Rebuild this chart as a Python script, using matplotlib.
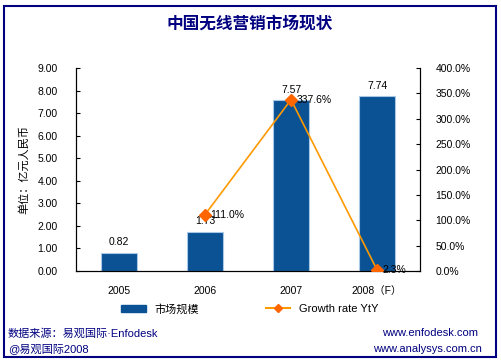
import matplotlib.pyplot as plt
from matplotlib.patches import Rectangle
from matplotlib.lines import Line2D

plt.rcParams['font.family'] = ['Liberation Sans', 'Noto Sans CJK SC', 'DejaVu Sans']

years = ['2005', '2006', '2007', '2008（F）']
market = [0.82, 1.73, 7.57, 7.74]
growth_years = [1, 2, 3]
growth = [111.0, 337.6, 2.3]
navy = '#000080'

W, H = 501, 363
fig = plt.figure(figsize=(W / 100, H / 100), dpi=100)

# outer frame
fig.patches.append(Rectangle((4 / W, 6 / H), 492 / W, 351 / H, transform=fig.transFigure,
                             fill=False, edgecolor=navy, linewidth=1.5))

fig.text(250 / W, 1 - 24 / H, '中国无线营销市场现状', ha='center', va='center',
         fontsize=12, fontweight='bold', color=navy, family='Noto Sans CJK SC')

ax = fig.add_axes([76 / W, 1 - 271 / H, 344 / W, 203 / H])
x = list(range(len(years)))
ax.bar(x, market, width=0.41, color='#0A5294', edgecolor='#A8C8E8', linewidth=0.8)
ax.set_xlim(-0.5, 3.5)
ax.set_ylim(0, 9)
ax.set_yticks(range(10))
ax.set_yticklabels(['%.2f' % i for i in range(10)])
ax.set_xticks(x)
ax.set_xticklabels(years)
ax.tick_params(axis='x', length=0, pad=11, labelsize=7.5)
ax.tick_params(axis='y', direction='in', length=3, pad=13, labelsize=7.5)
ax.spines['top'].set_visible(False)
ax.set_ylabel('单位：亿元人民币', fontsize=8, labelpad=6)
for xi, v in zip(x, market):
    ax.text(xi, v + 0.25, '%.2f' % v, ha='center', va='bottom', fontsize=7.5)

ax2 = ax.twinx()
ax2.plot(growth_years, growth, color='#FF9900', linewidth=1.2, marker='D',
         markersize=6, markerfacecolor='#FF6600', markeredgecolor='#FF6600', zorder=5)
ax2.set_ylim(0, 400)
ax2.set_yticks(range(0, 401, 50))
ax2.set_yticklabels(['%.1f%%' % t for t in range(0, 401, 50)])
ax2.tick_params(axis='y', direction='in', length=3, pad=11, labelsize=7.5)
ax2.spines['top'].set_visible(False)
for xi, g in zip(growth_years, growth):
    ax2.text(xi + 0.06, g, '%.1f%%' % g, ha='left', va='center', fontsize=7.5)

handles = [Rectangle((0, 0), 1, 1, color='#0A5294'),
           Line2D([], [], color='#FF9900', marker='D', markersize=4,
                  markerfacecolor='#FF6600', markeredgecolor='#FF6600')]
fig.legend(handles, ['市场规模', 'Growth rate YtY'], loc='center',
           bbox_to_anchor=(250 / W, 1 - 309 / H), ncol=2, frameon=False,
           fontsize=8, columnspacing=6, handlelength=2.2)

fig.text(8 / W, 1 - 333 / H, '数据来源：易观国际·Enfodesk', ha='left', va='center', fontsize=8, color=navy)
fig.text(8 / W, 1 - 349 / H, '@易观国际2008', ha='left', va='center', fontsize=8, color=navy)
fig.text(478 / W, 1 - 333 / H, 'www.enfodesk.com', ha='right', va='center', fontsize=8, color=navy)
fig.text(482 / W, 1 - 349 / H, 'www.analysys.com.cn', ha='right', va='center', fontsize=8, color=navy)

fig.savefig('out.png', dpi=100)
